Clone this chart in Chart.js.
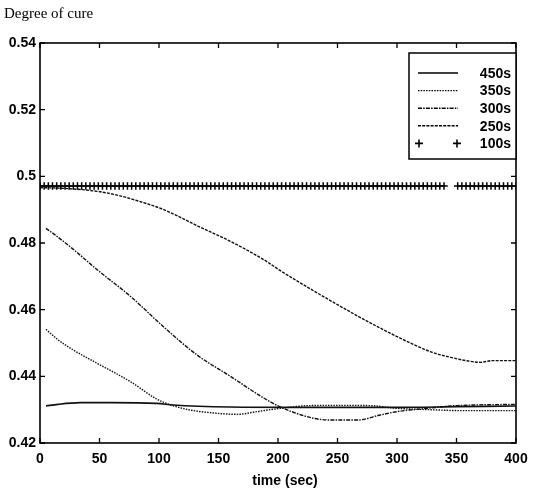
<!DOCTYPE html>
<html>
<head>
<meta charset="UTF-8" />
<title>Degree of cure</title>
<script src="https://cdn.jsdelivr.net/npm/chart.js"></script>
<style>
  body { margin: 0; background: #fff; }
  #wrap { width: 533px; height: 489px; }
</style>
</head>
<body>
<div id="wrap"><canvas id="cure" width="533" height="489"></canvas></div>
<script>
// values
const t450 = [5, 15, 34, 60, 98, 112, 160, 216, 300, 350, 400];
const cure450 = [0.4311, 0.4316, 0.4321, 0.4321, 0.4319, 0.4314, 0.4308, 0.4307, 0.4307, 0.4309, 0.4311];

const t350 = [5, 15, 28, 48, 76, 98, 110, 126, 149, 166, 182, 202, 225, 250, 278, 300, 328, 356, 400];
const cure350 = [0.4541, 0.4510, 0.4479, 0.4439, 0.4384, 0.4332, 0.4314, 0.4299, 0.4289, 0.4286, 0.4294, 0.4304, 0.4312, 0.4313, 0.4312, 0.4304, 0.4300, 0.4297, 0.4297];

const t300 = [5, 12, 27, 48, 76, 104, 132, 160, 188, 202, 230, 244, 267, 286, 300, 328, 350, 400];
const cure300 = [0.4844, 0.4826, 0.4784, 0.4720, 0.4640, 0.4548, 0.4464, 0.4400, 0.4335, 0.4308, 0.4274, 0.4269, 0.4269, 0.4284, 0.4294, 0.4305, 0.4312, 0.4316];

const t250 = [0, 20, 48, 62, 76, 104, 132, 160, 188, 202, 225, 250, 270, 289, 303, 328, 345, 360, 370, 380, 400];
const cure250 = [0.4966, 0.4964, 0.4955, 0.4946, 0.4933, 0.4900, 0.4852, 0.4805, 0.4750, 0.4717, 0.4667, 0.4615, 0.4575, 0.4539, 0.4514, 0.4474, 0.4457, 0.4446, 0.4442, 0.4447, 0.4447];

// 100s run: '+' markers, flat level
const t100 = [0, 3.5, 7, 10.5, 14, 17.5, 21, 24.5, 28, 31.5, 35, 38.5, 42, 45.5, 49, 52.5, 56, 59.5, 63, 66.5,
  70, 73.5, 77, 80.5, 84, 87.5, 91, 94.5, 98, 101.5, 105, 108.5, 112, 115.5, 119, 122.5, 126, 129.5, 133, 136.5,
  140, 143.5, 147, 150.5, 154, 157.5, 161, 164.5, 168, 171.5, 175, 178.5, 182, 185.5, 189, 192.5, 196, 199.5, 203, 206.5,
  210, 213.5, 217, 220.5, 224, 227.5, 231, 234.5, 238, 241.5, 245, 248.5, 252, 255.5, 259, 262.5, 266, 269.5, 273, 276.5,
  280, 283.5, 287, 290.5, 294, 297.5, 301, 304.5, 308, 311.5, 315, 318.5, 322, 325.5, 329, 332.5, 336, 339.5,
  351, 354.5, 358, 361.5, 365, 368.5, 372, 375.5, 379, 382.5, 386, 389.5, 393, 396.5, 400];
const cure100 = 0.4971;

const labels = ['450s', '350s', '300s', '250s', '100s'];
const xTicks = [0, 50, 100, 150, 200, 250, 300, 350, 400];
const yTicks = [0.42, 0.44, 0.46, 0.48, 0.5, 0.52, 0.54];
const yTickLabels = ['0.42', '0.44', '0.46', '0.48', '0.5', '0.52', '0.54'];

function pts(xs, ys) {
  return xs.map((x, i) => ({ x: x, y: Array.isArray(ys) ? ys[i] : ys }));
}

const lineBase = {
  borderColor: '#111',
  borderWidth: 1.4,
  pointRadius: 0,
  fill: false,
  cubicInterpolationMode: 'monotone'
};

// matlab-ish frame, inward ticks, legend box, texts
const matlabFrame = {
  id: 'matlabFrame',
  afterDraw(chart) {
    const ctx = chart.ctx;
    const a = chart.chartArea;
    const xs = chart.scales.x, ys = chart.scales.y;
    ctx.save();
    ctx.strokeStyle = '#000';
    ctx.lineWidth = 1.6;
    ctx.strokeRect(a.left, a.top, a.right - a.left, a.bottom - a.top);
    ctx.lineWidth = 1.3;
    ctx.beginPath();
    xTicks.forEach(v => {
      const px = xs.getPixelForValue(v);
      ctx.moveTo(px, a.bottom); ctx.lineTo(px, a.bottom - 5);
      ctx.moveTo(px, a.top); ctx.lineTo(px, a.top + 5);
    });
    yTicks.forEach(v => {
      const py = ys.getPixelForValue(v);
      ctx.moveTo(a.left, py); ctx.lineTo(a.left + 5, py);
      ctx.moveTo(a.right, py); ctx.lineTo(a.right - 5, py);
    });
    ctx.stroke();

    // legend
    const bx = 409, by = 53, bw = a.right - 409, bh = 106;
    ctx.fillStyle = '#fff';
    ctx.fillRect(bx, by, bw, bh);
    ctx.lineWidth = 1.5;
    ctx.strokeRect(bx, by, bw, bh);
    ctx.font = 'bold 14px "Liberation Sans", Arial, sans-serif';
    ctx.textAlign = 'right';
    ctx.textBaseline = 'middle';
    chart.data.datasets.forEach((ds, i) => {
      const ry = 73 + i * 17.6;
      if (ds.showLine === false) {
        ctx.lineWidth = 1.6;
        [419, 457].forEach(cx => {
          ctx.beginPath();
          ctx.moveTo(cx - 4, ry); ctx.lineTo(cx + 4, ry);
          ctx.moveTo(cx, ry - 4); ctx.lineTo(cx, ry + 4);
          ctx.stroke();
        });
      } else {
        ctx.lineWidth = ds.borderWidth;
        ctx.setLineDash(ds.borderDash || []);
        ctx.beginPath();
        ctx.moveTo(418, ry); ctx.lineTo(458, ry);
        ctx.stroke();
        ctx.setLineDash([]);
      }
      ctx.fillStyle = '#000';
      ctx.fillText(ds.label, 511, ry + 1);
    });

    // title + x label
    ctx.textAlign = 'left';
    ctx.textBaseline = 'alphabetic';
    ctx.font = '15px "Liberation Serif", "Times New Roman", serif';
    ctx.fillText('Degree of cure', 4, 18);
    ctx.textAlign = 'center';
    ctx.font = 'bold 14px "Liberation Sans", Arial, sans-serif';
    ctx.fillText('time (sec)', 285, 485);
    ctx.restore();
  }
};

const tickFont = { family: '"Liberation Sans", Arial, sans-serif', size: 14, weight: 'bold' };

new Chart(document.getElementById('cure'), {
  type: 'line',
  data: {
    datasets: [
      Object.assign({ label: labels[0], data: pts(t450, cure450) }, lineBase, { borderWidth: 1.6 }),
      Object.assign({ label: labels[1], data: pts(t350, cure350), borderDash: [1.5, 1.2] }, lineBase),
      Object.assign({ label: labels[2], data: pts(t300, cure300), borderDash: [4, 1.2, 1.5, 1.2] }, lineBase),
      Object.assign({ label: labels[3], data: pts(t250, cure250), borderDash: [3, 1.2] }, lineBase),
      {
        label: labels[4],
        data: pts(t100, cure100),
        showLine: false,
        pointStyle: 'cross',
        pointRadius: 3.8,
        pointBorderWidth: 1.5,
        borderColor: '#000',
        backgroundColor: '#000'
      }
    ]
  },
  options: {
    responsive: false,
    animation: false,
    layout: { padding: { top: 43, right: 17, left: 0, bottom: 0 } },
    plugins: { legend: { display: false }, tooltip: { enabled: false } },
    scales: {
      x: {
        type: 'linear',
        min: 0, max: 400,
        afterBuildTicks: s => { s.ticks = xTicks.map(v => ({ value: v })); },
        afterFit: s => { s.height = 46; s.paddingRight = 0; s.paddingLeft = 0; },
        grid: { display: false, drawTicks: false },
        border: { display: false },
        ticks: { color: '#000', font: tickFont, padding: 8, maxRotation: 0, callback: v => String(v) }
      },
      y: {
        min: 0.42, max: 0.54,
        afterBuildTicks: s => { s.ticks = yTicks.map(v => ({ value: v })); },
        afterFit: s => { s.width = 40; },
        grid: { display: false, drawTicks: false },
        border: { display: false },
        ticks: {
          color: '#000', font: tickFont, padding: 4,
          callback: v => yTickLabels[yTicks.findIndex(t => Math.abs(t - v) < 1e-9)]
        }
      }
    }
  },
  plugins: [matlabFrame]
});
</script>
</body>
</html>
